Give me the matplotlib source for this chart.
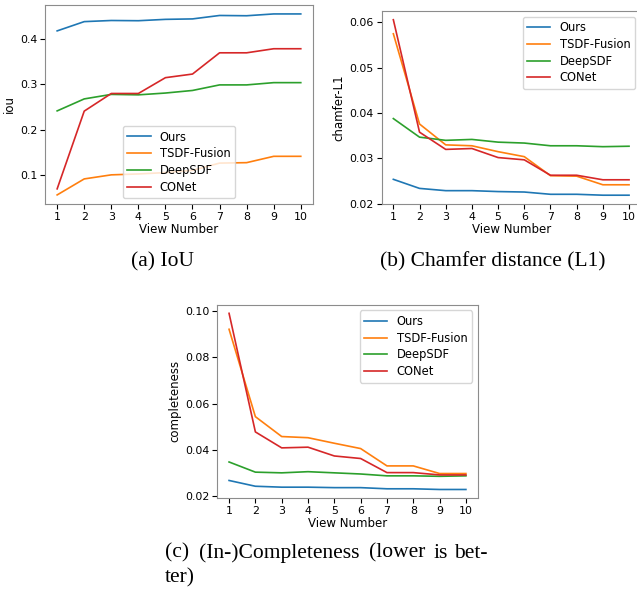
import matplotlib
matplotlib.use("Agg")
import matplotlib.pyplot as plt

# view counts on the x axis
views = [1, 2, 3, 4, 5, 6, 7, 8, 9, 10]
methods = ["Ours", "TSDF-Fusion", "DeepSDF", "CONet"]

# (a) IoU, higher is better
iou_ours = [0.4185, 0.439, 0.4415, 0.441, 0.444, 0.445, 0.4526, 0.452, 0.456, 0.456]
iou_tsdf = [0.0556, 0.091, 0.100, 0.102, 0.105, 0.110, 0.126, 0.127, 0.141, 0.141]
iou_deepsdf = [0.2415, 0.268, 0.278, 0.277, 0.281, 0.2867, 0.299, 0.299, 0.304, 0.304]
iou_conet = [0.069, 0.241, 0.280, 0.280, 0.315, 0.323, 0.370, 0.370, 0.379, 0.379]

# (b) chamfer-L1
cd_ours = [0.0254, 0.0234, 0.0229, 0.0229, 0.0227, 0.0226, 0.0221, 0.0221, 0.0219, 0.0219]
cd_tsdf = [0.0575, 0.0376, 0.0330, 0.0328, 0.0315, 0.0304, 0.0262, 0.0261, 0.0242, 0.0242]
cd_deepsdf = [0.0388, 0.0347, 0.0340, 0.0342, 0.0336, 0.0334, 0.0328, 0.0328, 0.0326, 0.0327]
cd_conet = [0.0606, 0.0358, 0.0320, 0.0322, 0.0302, 0.0297, 0.0263, 0.0263, 0.0253, 0.0253]

# (c) completeness
comp_ours = [0.0268, 0.0243, 0.0239, 0.0239, 0.0237, 0.0237, 0.0232, 0.0232, 0.0229, 0.0229]
comp_tsdf = [0.0922, 0.0544, 0.0458, 0.0453, 0.0429, 0.0406, 0.0331, 0.0331, 0.0298, 0.0298]
comp_deepsdf = [0.0348, 0.0304, 0.0301, 0.0306, 0.0301, 0.0296, 0.0288, 0.0288, 0.0286, 0.0288]
comp_conet = [0.0991, 0.0478, 0.0409, 0.0412, 0.0374, 0.0363, 0.0302, 0.0302, 0.0292, 0.0292]

colors = ["#1f77b4", "#ff7f0e", "#2ca02c", "#d62728"]

plt.rcParams["font.size"] = 8.5
fig = plt.figure(figsize=(6.37, 5.89), dpi=100)

ax_a = fig.add_axes([0.0706, 0.6537, 0.4207, 0.338])
# panel (b) runs past the right edge of the page, like the source crop
ax_b = fig.add_axes([0.599, 0.6537, 0.407, 0.3277])
ax_c = fig.add_axes([0.341, 0.154, 0.409, 0.329])


def draw(ax, series, ylabel, loc):
    for vals, name, c in zip(series, methods, colors):
        ax.plot(views, vals, color=c, lw=1.2, label=name)
    ax.set_xticks(views)
    ax.set_xlabel("View Number", labelpad=1)
    ax.set_ylabel(ylabel, labelpad=3)
    for s in ax.spines.values():
        s.set_color("0.55")
    ax.tick_params(length=3.5, pad=2, labelsize=7.9)
    ax.legend(loc=loc, fontsize=8.3, labelspacing=0.32)


draw(ax_a, [iou_ours, iou_tsdf, iou_deepsdf, iou_conet], "iou", "lower center")
draw(ax_b, [cd_ours, cd_tsdf, cd_deepsdf, cd_conet], "chamfer-L1", "upper right")
draw(ax_c, [comp_ours, comp_tsdf, comp_deepsdf, comp_conet], "completeness", "upper right")
ax_a.set_yticks([0.1, 0.2, 0.3, 0.4])
ax_b.set_yticks([0.02, 0.03, 0.04, 0.05, 0.06])
ax_c.set_yticks([0.02, 0.04, 0.06, 0.08, 0.10])

# subfigure captions, serif like the paper
cap = dict(family="Liberation Serif", fontsize=15.5, va="center")
fig.text(162.5 / 637, 1 - 261.7 / 589, "(a) IoU", ha="center", **cap)
fig.text(493 / 637, 1 - 261.7 / 589, "(b) Chamfer distance (L1)", ha="center", **cap)
# justified first line of caption (c)
fig.text(165 / 637, 1 - 553 / 589, "(c)", ha="left", **cap)
fig.text(199 / 637, 1 - 553 / 589, "(In-)Completeness", ha="left", **cap)
fig.text(369 / 637, 1 - 553 / 589, "(lower", ha="left", **cap)
fig.text(433 / 637, 1 - 553 / 589, "is", ha="left", **cap)
fig.text(488 / 637, 1 - 553 / 589, "bet-", ha="right", **cap)
fig.text(165 / 637, 1 - 578 / 589, "ter)", ha="left", **cap)

fig.savefig("out.png", dpi=100)
